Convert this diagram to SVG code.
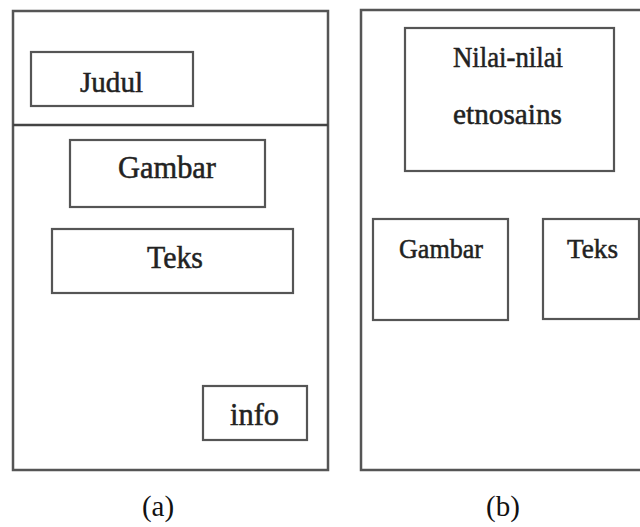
<svg xmlns="http://www.w3.org/2000/svg" width="640" height="527" viewBox="0 0 640 527">
<style>
.box{fill:#fff;stroke:#555;stroke-width:2.2}
.frame{fill:none;stroke:#555;stroke-width:2.5}
.t{font-family:"Liberation Serif","Times New Roman",serif;fill:#222;stroke:#222;stroke-width:0.5;text-anchor:middle}
.c{font-family:"Liberation Serif","Times New Roman",serif;fill:#111;text-anchor:middle}
</style>
<rect width="640" height="527" fill="#fff"/>
<g id="panel-a">
<rect class="frame" x="13" y="11" width="315" height="459"/>
<line x1="13" y1="125" x2="328" y2="125" stroke="#444" stroke-width="2.5"/>
</g>
<g id="judul"><rect class="box" x="31" y="52" width="162" height="54"/><text class="t" x="111.5" y="92" font-size="30" textLength="63" lengthAdjust="spacingAndGlyphs">Judul</text></g>
<g id="gambar-a"><rect class="box" x="70" y="140" width="195" height="67"/><text class="t" x="167" y="178" font-size="31" textLength="98" lengthAdjust="spacingAndGlyphs">Gambar</text></g>
<g id="teks-a"><rect class="box" x="52" y="229" width="241" height="64"/><text class="t" x="175" y="268" font-size="31" textLength="56" lengthAdjust="spacingAndGlyphs">Teks</text></g>
<g id="info"><rect class="box" x="203" y="386" width="104" height="54"/><text class="t" x="254.5" y="425" font-size="31" textLength="49" lengthAdjust="spacingAndGlyphs">info</text></g>
<text class="c" x="158" y="516" font-size="29">(a)</text>
<g id="panel-b">
<path class="frame" d="M641,10 H361 V470 H641"/>
</g>
<g id="nilai"><rect class="box" x="405" y="28" width="209" height="143"/><text class="t" x="508" y="67" font-size="29" textLength="110" lengthAdjust="spacingAndGlyphs">Nilai-nilai</text><text class="t" x="507.5" y="124" font-size="30" textLength="109" lengthAdjust="spacingAndGlyphs">etnosains</text></g>
<g id="gambar-b"><rect class="box" x="373" y="219" width="135" height="101"/><text class="t" x="441" y="258" font-size="28" textLength="84" lengthAdjust="spacingAndGlyphs">Gambar</text></g>
<g id="teks-b"><rect class="box" x="543" y="219" width="96" height="100"/><text class="t" x="592.5" y="258" font-size="28" textLength="51" lengthAdjust="spacingAndGlyphs">Teks</text></g>
<text class="c" x="503" y="516" font-size="29">(b)</text>
<g id="connectors"></g>
</svg>
